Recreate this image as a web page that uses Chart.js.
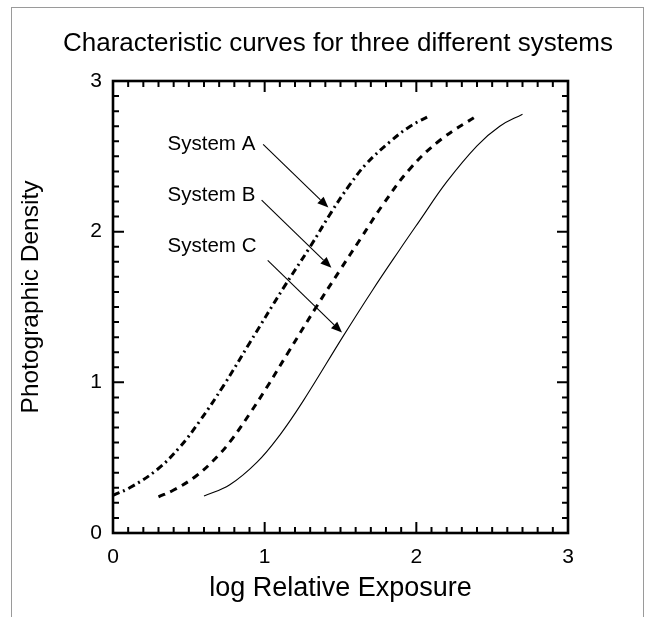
<!DOCTYPE html>
<html>
<head>
<meta charset="utf-8">
<script src="https://cdn.jsdelivr.net/npm/chart.js@4.4.0/dist/chart.umd.min.js"></script>
<style>
  html, body { margin: 0; padding: 0; background: #fff; }
  #wrap { position: relative; width: 647px; height: 617px; overflow: hidden; }
  #frame { position: absolute; left: 11px; top: 7px; width: 631px; height: 640px; border: 1px solid #9a9a9a; border-bottom: none; }
  #chart { position: absolute; left: 0; top: 0; }
</style>
</head>
<body>
<div id="wrap">
  <div id="frame"></div>
  <canvas id="chart" width="647" height="617"></canvas>
</div>
<script>
const chartTitle = 'Characteristic curves for three different systems';
const xTitle = 'log Relative Exposure';
const yTitle = 'Photographic Density';

// log exposure / density
const sysAX = [0, 0.11, 0.29, 0.44, 0.57, 0.73, 0.90, 1.12, 1.30, 1.44, 1.56, 1.67, 1.83, 1.96, 2.09];
const sysAY = [0.25, 0.30, 0.42, 0.57, 0.74, 0.98, 1.26, 1.62, 1.90, 2.13, 2.31, 2.45, 2.60, 2.70, 2.77];

const sysBX = [0.30, 0.40, 0.55, 0.69, 0.79, 0.90, 1.01, 1.15, 1.34, 1.50, 1.63, 1.78, 1.96, 2.16, 2.40];
const sysBY = [0.24, 0.285, 0.38, 0.51, 0.63, 0.79, 0.96, 1.19, 1.50, 1.75, 1.95, 2.18, 2.42, 2.61, 2.77];

const sysCX = [0.60, 0.77, 0.95, 1.10, 1.25, 1.52, 1.71, 1.89, 2.02, 2.20, 2.40, 2.55, 2.70];
const sysCY = [0.245, 0.32, 0.47, 0.65, 0.87, 1.31, 1.61, 1.88, 2.07, 2.33, 2.57, 2.70, 2.78];

const xMajor = [0, 1, 2, 3];
const yMajor = [0, 1, 2, 3];
const minorPerMajor = 10;

const seriesNames = ['System A', 'System B', 'System C'];
const namePos = [[0.36, 2.58], [0.36, 2.24], [0.36, 1.90]];
const arrowFrom = [[0.99, 2.58], [0.98, 2.21], [1.02, 1.81]];
const arrowTo = [[1.42, 2.16], [1.44, 1.76], [1.51, 1.33]];

const FONT = '"Liberation Sans", Arial, Helvetica, sans-serif';

function pts(xs, ys) {
  return xs.map((x, i) => ({ x, y: ys[i] }));
}

const frameTicks = {
  id: 'frameTicks',
  afterDatasetsDraw(chart) {
    const { ctx, chartArea: a, scales: { x, y } } = chart;
    ctx.save();
    ctx.strokeStyle = '#000';
    ctx.lineWidth = 2;
    ctx.beginPath();
    for (let m = 0; m < xMajor.length; m++) {
      const next = m + 1 < xMajor.length ? xMajor[m + 1] : xMajor[m];
      const n = m + 1 < xMajor.length ? minorPerMajor : 1;
      for (let k = 0; k < n; k++) {
        const v = xMajor[m] + (next - xMajor[m]) * k / minorPerMajor;
        const px = x.getPixelForValue(v);
        const len = k === 0 ? 11 : 6;
        ctx.moveTo(px, a.bottom); ctx.lineTo(px, a.bottom - len);
        ctx.moveTo(px, a.top); ctx.lineTo(px, a.top + len);
      }
    }
    for (let m = 0; m < yMajor.length; m++) {
      const next = m + 1 < yMajor.length ? yMajor[m + 1] : yMajor[m];
      const n = m + 1 < yMajor.length ? minorPerMajor : 1;
      for (let k = 0; k < n; k++) {
        const v = yMajor[m] + (next - yMajor[m]) * k / minorPerMajor;
        const py = y.getPixelForValue(v);
        const len = k === 0 ? 11 : 6;
        ctx.moveTo(a.left, py); ctx.lineTo(a.left + len, py);
        ctx.moveTo(a.right, py); ctx.lineTo(a.right - len, py);
      }
    }
    ctx.stroke();
    ctx.lineWidth = 2.6;
    ctx.strokeRect(a.left, a.top, a.right - a.left, a.bottom - a.top);

    // series names and arrows
    ctx.fillStyle = '#000';
    ctx.font = '20.5px ' + FONT;
    ctx.textAlign = 'left';
    ctx.textBaseline = 'middle';
    seriesNames.forEach((name, i) => {
      ctx.fillText(name, x.getPixelForValue(namePos[i][0]), y.getPixelForValue(namePos[i][1]));
      const x0 = x.getPixelForValue(arrowFrom[i][0]), y0 = y.getPixelForValue(arrowFrom[i][1]);
      const x1 = x.getPixelForValue(arrowTo[i][0]), y1 = y.getPixelForValue(arrowTo[i][1]);
      const ang = Math.atan2(y1 - y0, x1 - x0);
      const hl = 11, hw = 4.5;
      const bx = x1 - hl * Math.cos(ang), by = y1 - hl * Math.sin(ang);
      ctx.lineWidth = 1.1;
      ctx.beginPath();
      ctx.moveTo(x0, y0); ctx.lineTo(bx, by);
      ctx.stroke();
      ctx.beginPath();
      ctx.moveTo(x1, y1);
      ctx.lineTo(bx + hw * Math.sin(ang), by - hw * Math.cos(ang));
      ctx.lineTo(bx - hw * Math.sin(ang), by + hw * Math.cos(ang));
      ctx.closePath();
      ctx.fill();
    });

    // chart title
    ctx.font = '26px ' + FONT;
    ctx.textAlign = 'center';
    ctx.fillText(chartTitle, 338, 44);

    // y axis title, drawn here to sit where the original has it
    ctx.font = '24.5px ' + FONT;
    ctx.translate(31, 297);
    ctx.rotate(-Math.PI / 2);
    ctx.fillText(yTitle, 0, 0);
    ctx.restore();
  }
};

new Chart(document.getElementById('chart'), {
  type: 'line',
  data: {
    datasets: [
      {
        label: 'System A',
        data: pts(sysAX, sysAY),
        borderColor: '#000',
        borderWidth: 3,
        borderDash: [7, 4, 2, 4],
        pointRadius: 0,
        tension: 0.4
      },
      {
        label: 'System B',
        data: pts(sysBX, sysBY),
        borderColor: '#000',
        borderWidth: 3,
        borderDash: [7, 6],
        pointRadius: 0,
        tension: 0.4
      },
      {
        label: 'System C',
        data: pts(sysCX, sysCY),
        borderColor: '#000',
        borderWidth: 1.1,
        pointRadius: 0,
        tension: 0.4
      }
    ]
  },
  options: {
    responsive: false,
    animation: false,
    layout: { padding: { top: 81, right: 79, left: 0, bottom: 0 } },
    plugins: {
      legend: { display: false },
      title: { display: false },
      tooltip: { enabled: false }
    },
    scales: {
      x: {
        type: 'linear',
        min: 0,
        max: 3,
        afterFit: (s) => { s.height = 84; },
        grid: { display: false, drawTicks: false },
        border: { display: false },
        ticks: {
          stepSize: 1,
          padding: 12,
          color: '#000',
          font: { family: FONT, size: 21 }
        },
        title: {
          display: true,
          text: xTitle,
          color: '#000',
          font: { family: FONT, size: 27 },
          padding: { top: 0, bottom: 12 }
        }
      },
      y: {
        type: 'linear',
        min: 0,
        max: 3,
        afterFit: (s) => { s.width = 113; },
        grid: { display: false, drawTicks: false },
        border: { display: false },
        ticks: {
          stepSize: 1,
          padding: 11,
          color: '#000',
          font: { family: FONT, size: 21 }
        },
        title: { display: false }
      }
    }
  },
  plugins: [frameTicks]
});
</script>
</body>
</html>
